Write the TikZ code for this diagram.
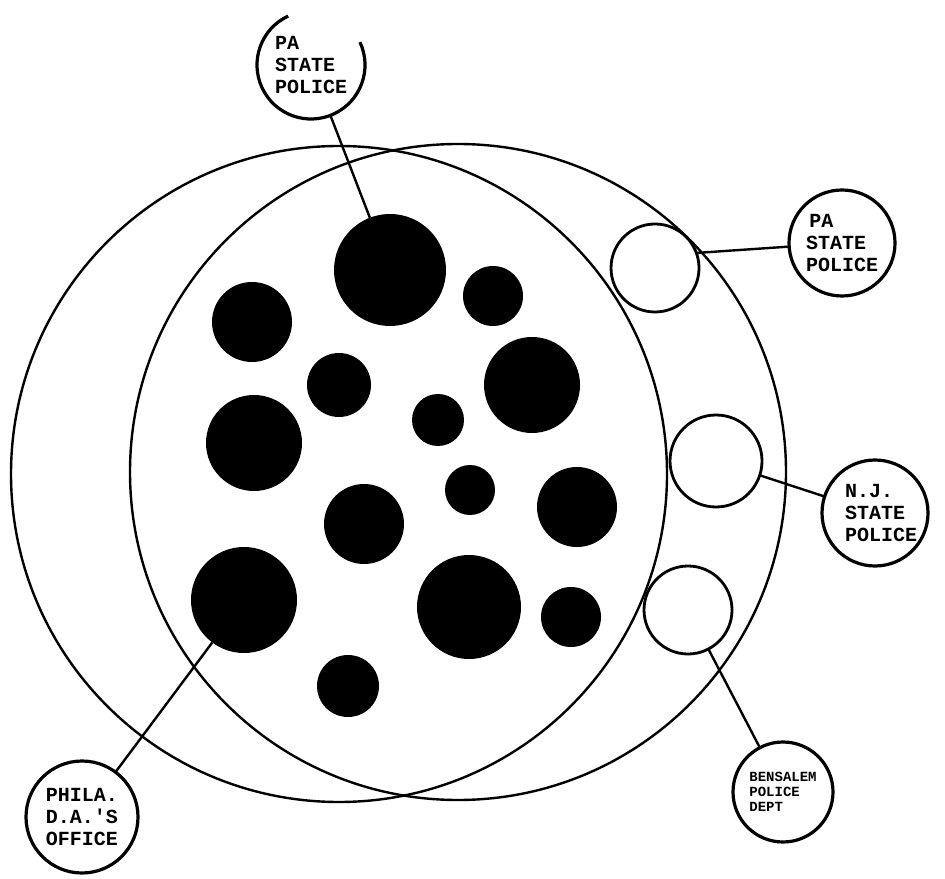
\documentclass[tikz,border=0pt]{standalone}
\usepackage{fontspec}
\newfontfamily\typefont{Liberation Mono}
\usetikzlibrary{calc}

\begin{document}
\begin{tikzpicture}[x=0.5pt,y=0.5pt,
  ring/.style={line width=1.2pt},
  dot/.style={circle,fill=black,inner sep=0pt,outer sep=0pt},
  hole/.style={circle,draw,line width=1.4pt,inner sep=0pt,outer sep=0pt},
  agency/.style={circle,draw,line width=1.6pt,inner sep=0pt,outer sep=0pt,
                 font=\typefont\bfseries\fontsize{10}{11}\selectfont,align=left},
  link/.style={line width=1.2pt}
]
\fill[white] (0,0) rectangle (945,878);

% the two overlapping rings
\draw[ring] (339,404) circle[radius=164pt];
\draw[ring] (458,406) circle[radius=164pt];

% filled members
\foreach \x/\y/\r [count=\i] in {390/608/56, 493/582/30, 252/556/40, 339/493/32,
    532/493/48, 438/458/26, 254/435/48, 470/388/25, 364/354/40, 577/371/40,
    244/278/53, 469/271/52, 571/261/30, 348/192/31}
  \node[dot,minimum size=\r pt] (d\i) at (\x,\y) {};

% open members
\node[hole,minimum size=44pt] (hA) at (655,610) {};
\node[hole,minimum size=46pt] (hB) at (716,417) {};
\node[hole,minimum size=44pt] (hC) at (688,268) {};

% agencies
\node[agency,draw=none,minimum size=54pt] (toppa) at (311,813) {PA\\STATE\\POLICE};
\draw[line width=1.6pt] (toppa.115) arc[start angle=115,end angle=385,radius=27pt];
\node[agency,minimum size=53pt] (rightpa) at (842,635) {\,PA\\STATE\\POLICE};
\node[agency,minimum size=53pt] (nj) at (875,365) {\ N.J.\\\ STATE\\\ POLICE};
\node[agency,minimum size=50pt,
      font=\typefont\bfseries\fontsize{7}{7.5}\selectfont] (bens) at (783,86)
      {BENSALEM\\POLICE\\DEPT};
\node[agency,minimum size=56pt] (phila) at (82,61) {PHILA.\\D.A.'S\\OFFICE};

% ties
\draw[link] (toppa) -- (d1);
\draw[link] (hA.20) -- (rightpa);
\draw[link] (hB) -- (nj);
\draw[link] (hC) -- (bens);
\draw[link] (phila) -- (d11);
\end{tikzpicture}
\end{document}
